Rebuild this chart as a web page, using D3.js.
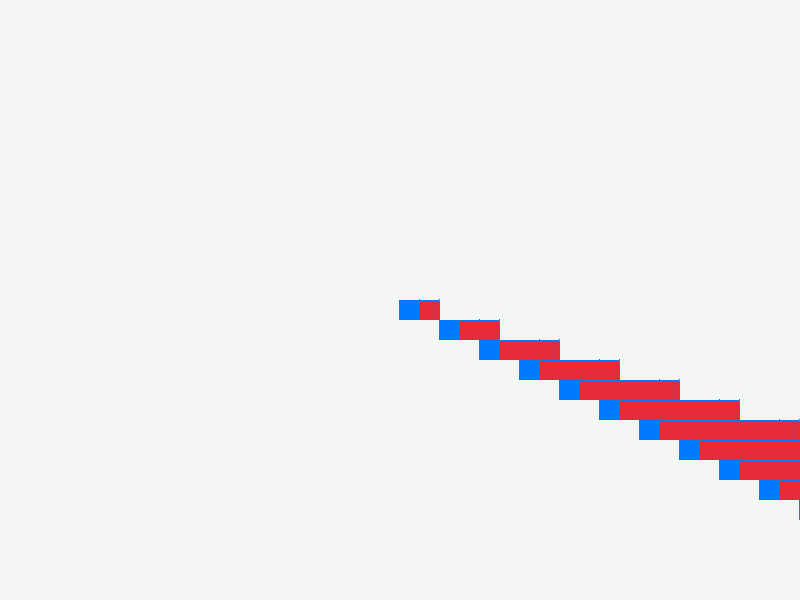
<!DOCTYPE html>
<html>
<head>
<meta charset="utf-8">
<script src="https://cdn.jsdelivr.net/npm/d3@7"></script>
<style>
  html, body { margin: 0; padding: 0; background: #f5f5f5; }
  svg { display: block; }
</style>
</head>
<body>
<div id="chart"></div>
<script>
// rows, top to bottom
var ROWS = ["1", "2", "3", "4", "5", "6", "7", "8", "9", "10", "11"];
// where each row starts, in units
var OFFSETS = [0, 2, 4, 6, 8, 10, 12, 14, 16, 18, 20];
// first (blue) segment of each row
var BLUE = [1, 1, 1, 1, 1, 1, 1, 1, 1, 1, 1];
// second (red) segment of each row
var RED = [1, 2, 3, 4, 5, 6, 7, 8, 9, 10, 11];

var BLUE_COLOR = "#007bff";
var RED_COLOR = "#e52a3a";

var width = 800, height = 600;

var svg = d3.select("#chart").append("svg")
	.attr("width", width)
	.attr("height", height);

// 20px per unit, zero sits in the middle of the page
var x = d3.scaleLinear()
	.domain([0, 20])
	.range([399, 799]);

var y = d3.scaleBand()
	.domain(ROWS)
	.range([300, 300 + 20 * ROWS.length])
	.padding(0);

var data = ROWS.map(function(r, i) {
	return { row: r, start: OFFSETS[i], blue: BLUE[i], red: RED[i] };
});

var rows = svg.selectAll(".row")
	.data(data)
	.enter()
	.append("g")
	.attr("class", "row")
	.attr("transform", function(d) { return "translate(0," + y(d.row) + ")"; });

// blue segment
rows.append("rect")
	.attr("x", function(d) { return x(d.start); })
	.attr("width", function(d) { return x(d.start + d.blue) - x(d.start); })
	.attr("height", y.bandwidth())
	.attr("fill", BLUE_COLOR);

// red segment
rows.append("rect")
	.attr("x", function(d) { return x(d.start + d.blue); })
	.attr("width", function(d) { return x(d.start + d.blue + d.red) - x(d.start + d.blue); })
	.attr("height", y.bandwidth())
	.attr("fill", RED_COLOR);

// outline of the red segment: an axis per row, outer ticks run down the sides
rows.each(function(d) {
	var from = d.start + d.blue;
	var end = from + d.red;
	var rx = x.copy()
		.domain([from, end])
		.range([x(from), x(end)]);
	var axis = d3.axisTop(rx)
		.tickValues([end - 1, end])
		.tickSizeInner(1)
		.tickSizeOuter(-y.bandwidth())
		.tickFormat("");
	var g = d3.select(this).append("g")
		.attr("class", "row-axis")
		.call(axis);
	g.selectAll("path, line").attr("stroke", BLUE_COLOR);
});

// blue top edge over the blue segment too
rows.append("line")
	.attr("x1", function(d) { return x(d.start); })
	.attr("x2", function(d) { return x(d.start + d.blue); })
	.attr("y1", 0.5)
	.attr("y2", 0.5)
	.attr("stroke", BLUE_COLOR);
</script>
</body>
</html>
